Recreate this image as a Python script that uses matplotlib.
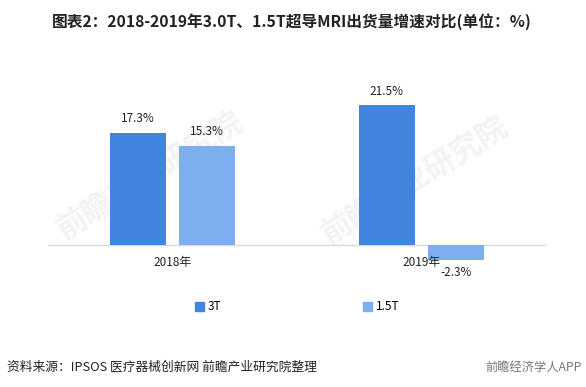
import matplotlib.pyplot as plt
from matplotlib.patches import Patch

plt.rcParams['font.family'] = ['Noto Sans CJK SC', 'DejaVu Sans']

years = ['2018年', '2019年']
series = ['3T', '1.5T']
growth_3t = [17.3, 21.5]
growth_15t = [15.3, -2.3]
colors = ['#4285e0', '#7daeee']

fig = plt.figure(figsize=(5.86, 3.87), dpi=100)
W, H = 586, 387

# axes placed in pixel units of the reference
ax = fig.add_axes([48 / W, (H - 278) / H, 498 / W, 202 / H])
ax.set_xlim(-0.5, 1.5)
ax.set_ylim(-5, 26)
ax.axis('off')
ax.axhline(0, color='#d9d9d9', lw=1, zorder=1)

bw = 0.225
off = 0.14
x = list(range(len(years)))
for vals, shift, c in zip([growth_3t, growth_15t], [-off, off], colors):
    for i, v in zip(x, vals):
        ax.bar(i + shift, v, width=bw, color=c, zorder=2)
        dy = 14 if v >= 0 else -12
        ax.annotate('%.1f%%' % v, xy=(i + shift, v), xytext=(0, dy),
                    textcoords='offset pixels', ha='center', va='center',
                    fontsize=8.5, color='#222222')

for i, y in zip(x, years):
    ax.annotate(y, xy=(i, 0), xytext=(0, -17), textcoords='offset pixels',
                ha='center', va='center', fontsize=8.5, color='#222222')

# faint watermark, behind everything
for wx, wy in [(150, 175), (415, 180)]:
    fig.text(wx / W, 1 - wy / H, '前瞻产业研究院', fontsize=22, fontweight='bold',
             color='#f1f3f5', rotation=32, ha='center', va='center', zorder=-1)

handles = [Patch(color=c) for c in colors]
fig.legend(handles, series, loc='center', bbox_to_anchor=(297 / W, 1 - 307 / H),
           ncol=2, frameon=False, fontsize=8.5, handlelength=0.8, handleheight=0.8,
           handletextpad=0.3, columnspacing=12)

fig.text(292 / W, 1 - 22 / H, '图表2：2018-2019年3.0T、1.5T超导MRI出货量增速对比(单位：%)',
         ha='center', va='center', fontsize=11.3, fontweight='bold', color='#222222')
fig.text(7 / W, 1 - 367 / H, '资料来源：IPSOS 医疗器械创新网 前瞻产业研究院整理',
         ha='left', va='center', fontsize=9.2, color='#222222')
fig.text(582 / W, 1 - 367 / H, '前瞻经济学人APP', ha='right', va='center',
         fontsize=8.8, color='#777777')

fig.savefig('out.png', dpi=100)
